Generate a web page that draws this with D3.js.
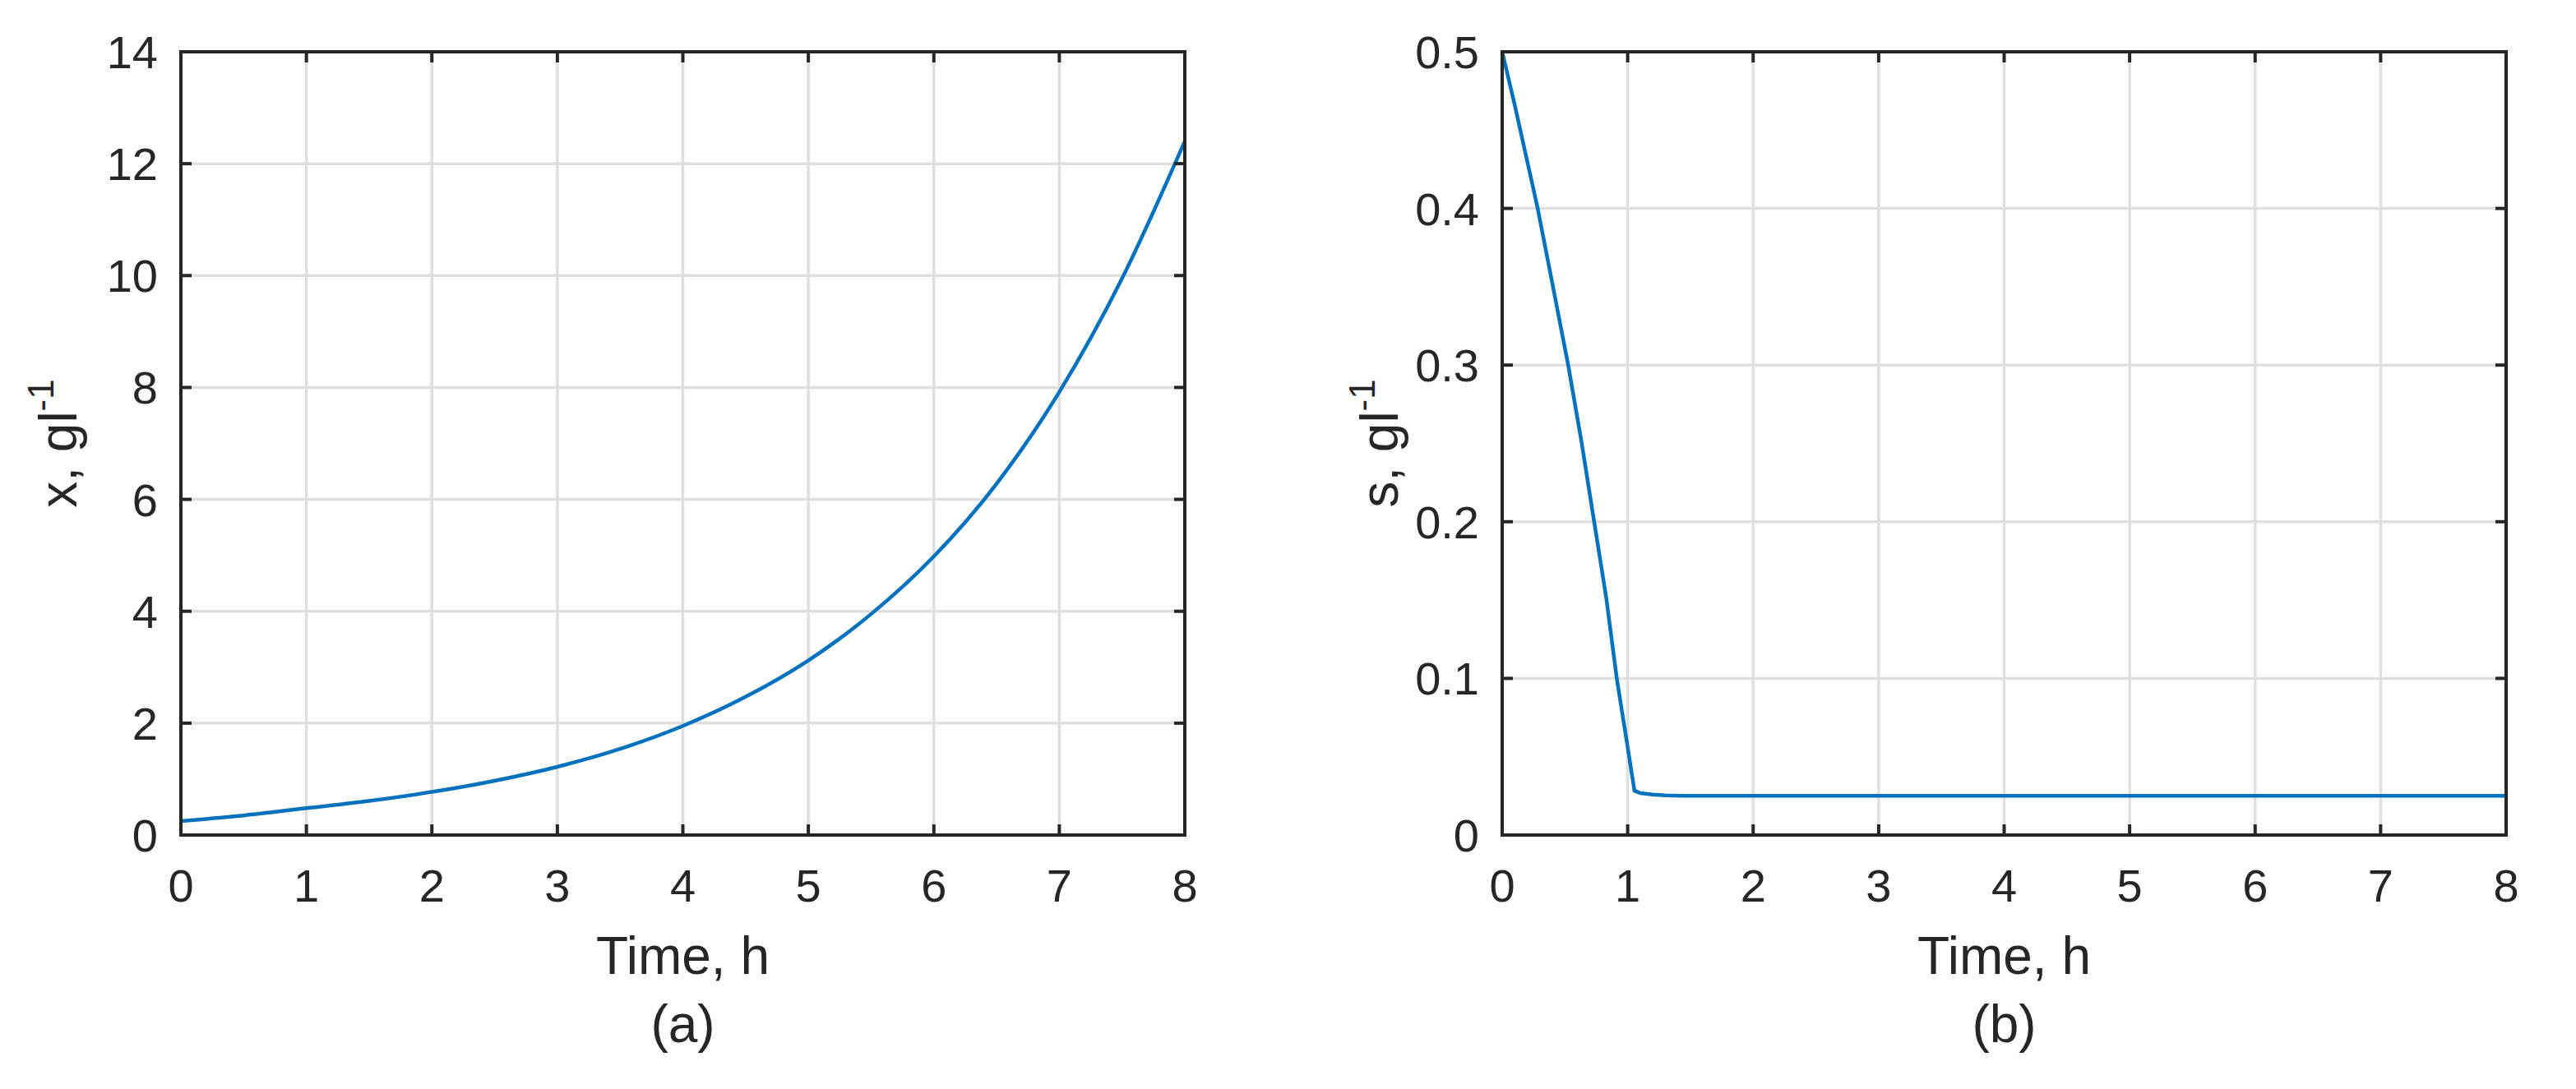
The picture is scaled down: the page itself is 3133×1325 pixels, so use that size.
<!DOCTYPE html>
<html>
<head>
<meta charset="utf-8">
<script src="https://cdn.jsdelivr.net/npm/d3@7"></script>
<style>
  html, body { margin: 0; padding: 0; background: #fff; }
  svg { display: block; }
  text { font-family: "Liberation Sans", Arial, Helvetica, sans-serif; fill: #262626; }
</style>
</head>
<body>
<svg id="chart" width="3133" height="1325"></svg>
<script>
// ---- Data ----
const timeA = [0, 0.5, 1, 1.5, 2, 2.5, 3, 3.5, 4, 4.5, 5, 5.5, 6, 6.5, 7, 7.5, 8];
const biomassX = [0.25, 0.35, 0.48, 0.61, 0.77, 0.97, 1.22, 1.54, 1.95, 2.47, 3.12, 3.95, 4.98, 6.28, 7.92, 9.95, 12.4];

const timeB = [0, 0.1, 0.2, 0.283, 0.4, 0.526, 0.63, 0.733, 0.83, 0.913, 1.0, 1.054, 1.1, 1.2, 1.3, 1.45, 2, 3, 4, 5, 6, 7, 8];
const substrateS = [0.5, 0.466, 0.43, 0.4, 0.352, 0.3, 0.252, 0.2, 0.151, 0.1, 0.056, 0.0283, 0.0268, 0.0258, 0.0253, 0.025, 0.025, 0.025, 0.025, 0.025, 0.025, 0.025, 0.025];

const xTicks = [0, 1, 2, 3, 4, 5, 6, 7, 8];
const yTicksA = [0, 2, 4, 6, 8, 10, 12, 14];
const yTicksB = [0, 0.1, 0.2, 0.3, 0.4, 0.5];

(function () {
  const panels = [
    { left: 220, right: 1441, time: timeA, vals: biomassX, yDomain: [0, 14], yTicks: yTicksA,
      yFmt: d => String(d), yLabel: "x, gl", sub: "(a)", curve: d3.curveMonotoneX },
    { left: 1827, right: 3048, time: timeB, vals: substrateS, yDomain: [0, 0.5], yTicks: yTicksB,
      yFmt: d => (d === 0 ? "0" : d3.format(".1f")(d)), yLabel: "s, gl", sub: "(b)", curve: d3.curveLinear }
  ];

  const plotTop = 63, plotBottom = 1016;
  const svg = d3.select("#chart");
  const axisColor = "#262626", gridColor = "#dfdfdf", lineColor = "#0072BD";
  const tickLen = 13;

  panels.forEach(p => {
    const g = svg.append("g");
    const x = d3.scaleLinear().domain([0, 8]).range([p.left, p.right]);
    const y = d3.scaleLinear().domain(p.yDomain).range([plotBottom, plotTop]);

    // grid
    g.selectAll(".gx").data(xTicks.slice(1, -1)).enter().append("line")
      .attr("x1", d => x(d)).attr("x2", d => x(d)).attr("y1", plotTop).attr("y2", plotBottom)
      .attr("stroke", gridColor).attr("stroke-width", 3.5);
    g.selectAll(".gy").data(p.yTicks.slice(1, -1)).enter().append("line")
      .attr("x1", p.left).attr("x2", p.right).attr("y1", d => y(d)).attr("y2", d => y(d))
      .attr("stroke", gridColor).attr("stroke-width", 3.5);

    // data line
    const line = d3.line().x((d, i) => x(p.time[i])).y(d => y(d)).curve(p.curve);
    g.append("path").datum(p.vals).attr("d", line)
      .attr("fill", "none").attr("stroke", lineColor).attr("stroke-width", 4.5)
      .attr("stroke-linejoin", "round");

    // ticks (inward, all four sides)
    xTicks.forEach(t => {
      g.append("line").attr("x1", x(t)).attr("x2", x(t)).attr("y1", plotBottom).attr("y2", plotBottom - tickLen)
        .attr("stroke", axisColor).attr("stroke-width", 4);
      g.append("line").attr("x1", x(t)).attr("x2", x(t)).attr("y1", plotTop).attr("y2", plotTop + tickLen)
        .attr("stroke", axisColor).attr("stroke-width", 4);
    });
    p.yTicks.forEach(t => {
      g.append("line").attr("x1", p.left).attr("x2", p.left + tickLen).attr("y1", y(t)).attr("y2", y(t))
        .attr("stroke", axisColor).attr("stroke-width", 4);
      g.append("line").attr("x1", p.right).attr("x2", p.right - tickLen).attr("y1", y(t)).attr("y2", y(t))
        .attr("stroke", axisColor).attr("stroke-width", 4);
    });

    // box
    g.append("rect").attr("x", p.left).attr("y", plotTop).attr("width", p.right - p.left).attr("height", plotBottom - plotTop)
      .attr("fill", "none").attr("stroke", axisColor).attr("stroke-width", 4);

    // tick labels
    g.selectAll(".xl").data(xTicks).enter().append("text")
      .attr("x", d => x(d)).attr("y", 1097).attr("text-anchor", "middle")
      .attr("font-size", 56).text(d => d);
    g.selectAll(".yl").data(p.yTicks).enter().append("text")
      .attr("x", p.left - 28).attr("y", d => y(d) + 20).attr("text-anchor", "end")
      .attr("font-size", 56).text(d => p.yFmt(d));

    // x label and subtitle
    const cx = (p.left + p.right) / 2;
    g.append("text").attr("x", cx).attr("y", 1185).attr("text-anchor", "middle")
      .attr("font-size", 64).text("Time, h");
    g.append("text").attr("x", cx).attr("y", 1268).attr("text-anchor", "middle")
      .attr("font-size", 64).text(p.sub);

    // y label (rotated)
    const lx = p.left - 127, ly = (plotTop + plotBottom) / 2;
    const yl = g.append("text").attr("transform", `translate(${lx},${ly}) rotate(-90)`)
      .attr("text-anchor", "middle").attr("font-size", 64);
    yl.append("tspan").text(p.yLabel);
    yl.append("tspan").attr("font-size", 44).attr("dy", -28).text("-1");
  });
})();
</script>
</body>
</html>
